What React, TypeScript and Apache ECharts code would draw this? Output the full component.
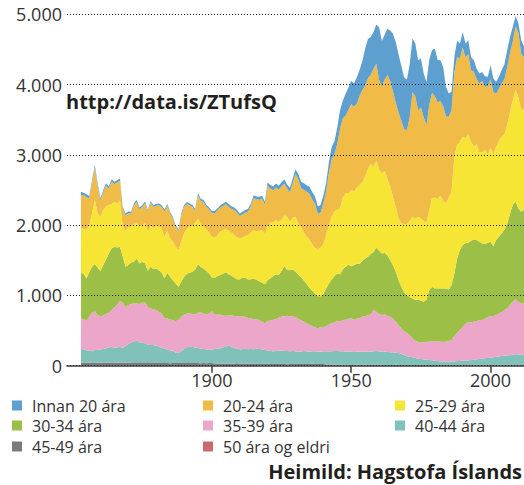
import { useEffect, useRef } from "react";
import * as echarts from "echarts";

// Births in Iceland by mother's age, 1853–2012
const firstYear = 1853;
// the axis starts a few years before the first data year and ends at 2012
const axisFirstYear = 1848;
const axisLastYear = 2012;

const innan20 = [
  40, 41, 38, 36, 35, 37, 34, 31, 30, 32,
  30, 31, 29, 30, 31, 26, 25, 27, 24, 26,
  26, 24, 25, 27, 25, 24, 26, 25, 27, 25,
  24, 26, 25, 23, 24, 22, 25, 26, 25, 27,
  25, 24, 30, 29, 31, 28, 30, 29, 31, 30,
  34, 36, 35, 37, 34, 35, 36, 33, 35, 36,
  38, 40, 42, 41, 43, 40, 42, 50, 50, 55,
  55, 56, 60, 62, 60, 65, 66, 70, 75, 90,
  95, 95, 100, 105, 100, 100, 110, 115, 120, 150,
  175, 190, 230, 265, 250, 310, 322, 332, 330, 375,
  370, 415, 521, 560, 540, 522, 557, 750, 650, 640,
  660, 720, 820, 860, 830, 780, 740, 720, 758, 759,
  749, 711, 696, 620, 616, 640, 607, 677, 600, 580,
  560, 420, 330, 260, 220, 230, 215, 220, 200, 195,
  190, 165, 150, 140, 130, 150, 140, 200, 190, 170,
  170, 190, 210, 240, 220, 210, 150, 130, 200, 150,
];

const ara20_24 = [
  481, 477, 464, 382, 439, 462, 392, 230, 254, 293,
  240, 320, 254, 302, 278, 259, 221, 198, 188, 268,
  307, 241, 260, 283, 284, 335, 293, 289, 306, 307,
  373, 346, 354, 331, 283, 269, 378, 378, 357, 303,
  283, 165, 326, 334, 349, 325, 331, 340, 345, 349,
  345, 344, 349, 344, 344, 359, 354, 320, 330, 335,
  339, 377, 458, 458, 443, 448, 410, 571, 480, 450,
  467, 465, 475, 450, 401, 420, 490, 606, 630, 550,
  608, 635, 652, 645, 630, 502, 500, 580, 620, 750,
  820, 810, 940, 1135, 1130, 1100, 1185, 1225, 1211, 1194,
  1266, 1304, 1303, 1288, 1262, 1398, 1379, 1274, 1235, 1301,
  1473, 1505, 1497, 1488, 1505, 1459, 1346, 1335, 1479, 1777,
  1740, 1517, 1579, 1475, 1388, 1493, 1502, 1441, 1382, 1345,
  1346, 1239, 1149, 1162, 1202, 1254, 1184, 1273, 1151, 1142,
  1019, 1068, 926, 988, 1008, 902, 974, 970, 886, 754,
  740, 758, 786, 827, 846, 833, 902, 922, 795, 731,
];

const ara25_29 = [
  631, 640, 697, 663, 758, 910, 768, 768, 783, 758,
  688, 632, 640, 625, 664, 418, 512, 536, 512, 536,
  498, 531, 521, 569, 554, 578, 597, 602, 617, 631,
  583, 607, 545, 545, 521, 522, 569, 616, 640, 655,
  640, 670, 649, 607, 593, 588, 578, 578, 574, 583,
  616, 616, 621, 617, 611, 602, 597, 583, 569, 593,
  630, 663, 687, 687, 716, 744, 721, 768, 798, 770,
  770, 750, 725, 725, 759, 688, 737, 779, 725, 720,
  680, 675, 685, 655, 650, 675, 690, 705, 760, 830,
  895, 920, 907, 940, 1020, 1050, 1018, 1083, 1043, 1081,
  1123, 1123, 1162, 1250, 1287, 1214, 1237, 1157, 1138, 1166,
  1090, 1042, 972, 915, 877, 901, 972, 1017, 1081, 1162,
  1161, 1176, 1171, 1152, 1091, 1138, 1257, 1294, 1265, 1322,
  1246, 1208, 1309, 1327, 1659, 1612, 1540, 1540, 1493, 1545,
  1407, 1318, 1365, 1266, 1303, 1337, 1247, 1342, 1308, 1327,
  1366, 1374, 1355, 1398, 1446, 1493, 1588, 1579, 1446, 1445,
];

const ara30_34 = [
  649, 644, 602, 640, 654, 678, 678, 654, 711, 777,
  843, 876, 862, 820, 768, 663, 578, 568, 588, 593,
  640, 578, 583, 559, 512, 593, 569, 592, 592, 578,
  569, 649, 607, 568, 536, 473, 497, 536, 566, 581,
  602, 640, 692, 650, 640, 621, 569, 479, 521, 550,
  559, 597, 616, 587, 560, 550, 531, 522, 554, 554,
  545, 555, 583, 554, 554, 559, 559, 578, 602, 620,
  636, 610, 653, 710, 649, 655, 662, 650, 632, 610,
  584, 560, 528, 500, 480, 453, 440, 470, 540, 580,
  620, 665, 673, 674, 720, 755, 768, 742, 781, 782,
  773, 796, 820, 830, 858, 824, 915, 900, 877, 872,
  868, 806, 758, 711, 640, 592, 554, 533, 545, 568,
  578, 602, 597, 578, 602, 735, 772, 749, 754, 759,
  759, 759, 734, 782, 891, 1057, 1138, 1161, 1147, 1128,
  1162, 1170, 1152, 1113, 1090, 1062, 1062, 1057, 996, 1067,
  1090, 1119, 1147, 1209, 1303, 1375, 1389, 1327, 1313, 1328,
];

const ara35_39 = [
  436, 427, 417, 484, 550, 545, 497, 465, 483, 489,
  493, 522, 574, 602, 654, 645, 550, 555, 550, 540,
  530, 545, 569, 578, 540, 521, 507, 508, 498, 488,
  431, 441, 436, 441, 445, 475, 488, 488, 479, 474,
  470, 469, 503, 512, 502, 498, 521, 545, 493, 483,
  484, 455, 441, 427, 450, 455, 455, 474, 465, 455,
  446, 436, 422, 427, 413, 394, 379, 422, 431, 450,
  455, 467, 484, 496, 502, 496, 497, 485, 468, 445,
  421, 400, 382, 360, 340, 335, 345, 345, 355, 385,
  400, 405, 430, 421, 445, 455, 465, 473, 455, 473,
  473, 497, 506, 520, 530, 587, 558, 530, 520, 535,
  511, 502, 483, 441, 398, 361, 338, 335, 308, 269,
  246, 241, 232, 242, 256, 261, 276, 281, 281, 279,
  281, 283, 294, 305, 362, 404, 439, 485, 521, 546,
  536, 541, 545, 555, 550, 563, 577, 591, 586, 595,
  614, 628, 652, 670, 713, 755, 783, 750, 717, 726,
];

const ara40_44 = [
  194, 189, 180, 170, 161, 180, 180, 189, 194, 203,
  218, 227, 213, 218, 227, 208, 237, 265, 289, 308,
  318, 294, 289, 280, 261, 256, 256, 246, 232, 218,
  204, 194, 185, 171, 152, 137, 171, 204, 227, 232,
  227, 223, 213, 208, 204, 194, 185, 194, 205, 210,
  214, 229, 238, 257, 238, 219, 210, 200, 205, 210,
  203, 207, 204, 208, 206, 200, 191, 186, 185, 181,
  186, 189, 190, 184, 187, 183, 186, 181, 176, 179,
  184, 181, 176, 180, 182, 176, 179, 183, 189, 187,
  191, 194, 192, 189, 190, 184, 186, 184, 179, 184,
  185, 183, 184, 185, 183, 189, 194, 189, 189, 187,
  184, 183, 179, 174, 169, 159, 141, 122, 117, 109,
  99, 89, 84, 85, 78, 76, 71, 64, 61, 57,
  54, 53, 52, 56, 55, 61, 63, 66, 68, 70,
  76, 79, 86, 91, 94, 101, 104, 111, 114, 121,
  124, 131, 134, 141, 144, 152, 156, 154, 157, 153,
];

const ara45_49 = [
  40, 41, 39, 38, 40, 42, 40, 39, 41, 40,
  38, 40, 41, 39, 40, 38, 40, 41, 36, 35,
  34, 36, 35, 37, 35, 34, 36, 35, 35, 34,
  36, 35, 33, 35, 34, 36, 35, 35, 34, 35,
  36, 34, 35, 33, 35, 34, 35, 34, 30, 31,
  29, 30, 31, 30, 29, 30, 31, 30, 29, 30,
  30, 31, 29, 30, 28, 30, 29, 30, 23, 22,
  21, 22, 23, 22, 21, 22, 22, 23, 21, 22,
  22, 21, 22, 23, 22, 21, 22, 22, 16, 15,
  15, 14, 16, 15, 15, 14, 15, 16, 15, 14,
  15, 15, 14, 15, 16, 15, 14, 15, 11, 10,
  10, 9, 10, 11, 10, 9, 10, 10, 9, 10,
  10, 9, 10, 6, 5, 5, 6, 5, 5, 4,
  5, 5, 4, 5, 5, 4, 5, 4, 5, 5,
  4, 5, 5, 4, 5, 5, 6, 5, 5, 6,
  5, 6, 6, 5, 6, 7, 6, 7, 6, 6,
];

const ara50plus = [
  3, 3, 2, 3, 4, 3, 3, 2, 3, 3,
  3, 4, 3, 3, 2, 3, 3, 3, 4, 3,
  3, 2, 3, 3, 3, 4, 3, 3, 2, 3,
  3, 3, 3, 2, 3, 4, 3, 3, 3, 2,
  3, 3, 4, 3, 3, 2, 3, 3, 2, 2,
  3, 2, 2, 1, 2, 2, 3, 2, 2, 2,
  1, 2, 2, 3, 2, 2, 2, 1, 2, 2,
  2, 3, 2, 2, 1, 2, 2, 2, 2, 1,
  2, 2, 2, 3, 2, 2, 1, 2, 1, 1,
  1, 0, 1, 1, 2, 1, 1, 1, 1, 0,
  1, 1, 1, 1, 1, 0, 1, 1, 1, 1,
  0, 1, 1, 1, 0, 1, 1, 1, 0, 1,
  1, 0, 1, 0, 1, 0, 0, 0, 1, 0,
  0, 0, 0, 0, 0, 1, 0, 0, 0, 0,
  0, 1, 0, 0, 0, 0, 1, 0, 0, 0,
  1, 0, 0, 1, 0, 0, 1, 0, 1, 1,
];

const xTickLabels = ["1900", "1950", "2000"];

const seriesNames = [
  "Innan 20 ára",
  "20-24 ára",
  "25-29 ára",
  "30-34 ára",
  "35-39 ára",
  "40-44 ára",
  "45-49 ára",
  "50 ára og eldri",
];
const seriesColors = [
  "#5d9fcf",
  "#f0bc47",
  "#f7e535",
  "#9cbf47",
  "#eca6ca",
  "#80c1ba",
  "#7b7b7b",
  "#c96a6b",
];
const seriesValues = [innan20, ara20_24, ara25_29, ara30_34, ara35_39, ara40_44, ara45_49, ara50plus];

const FONT = '"Open Sans", "Noto Sans", sans-serif';

export default function App() {
  const ref = useRef<HTMLDivElement>(null);

  useEffect(() => {
    if (!ref.current) return;
    const chart = echarts.init(ref.current, undefined, { renderer: "svg" });

    const years: string[] = [];
    for (let y = axisFirstYear; y <= axisLastYear; y++) years.push(String(y));
    const lead = firstYear - axisFirstYear; // empty slots before data starts

    // stacked bottom-to-top: 50+ first, Innan 20 on top
    const series = seriesNames
      .map((name, i) => ({
        name,
        type: "line" as const,
        stack: "total",
        symbol: "none",
        showSymbol: false,
        color: seriesColors[i],
        lineStyle: { width: 0 },
        areaStyle: { color: seriesColors[i], opacity: 1 },
        emphasis: { disabled: true },
        data: [...new Array(lead).fill("-"), ...seriesValues[i]],
      }))
      .reverse();

    const cols = [12, 203, 395];
    const rows = [395.5, 415.5, 436.5];
    const legends = seriesNames.map((name, i) => ({
      data: [name],
      left: cols[i % 3],
      top: rows[Math.floor(i / 3)],
      padding: 0,
      icon: "rect",
      itemWidth: 10,
      itemHeight: 10,
      selectedMode: false,
      textStyle: {
        fontFamily: FONT,
        fontSize: 16,
        color: "#333",
        padding: [0, 0, 0, 5],
        lineHeight: 20,
      },
    }));

    const isTick = (_i: number, v: string) => xTickLabels.includes(String(v));

    chart.setOption({
      animation: false,
      backgroundColor: "#fff",
      textStyle: { fontFamily: FONT },
      grid: { left: 67, right: 0, top: 14.3, bottom: 119.3, containLabel: false },
      xAxis: {
        type: "category",
        data: years,
        boundaryGap: false,
        z: 5,
        axisLine: { show: true, onZero: false, lineStyle: { color: "#3c3c3c", width: 1.5 } },
        axisTick: {
          show: true,
          interval: isTick,
          length: 7,
          lineStyle: { color: "#3c3c3c", width: 1.5 },
        },
        axisLabel: {
          interval: isTick,
          fontFamily: FONT,
          fontSize: 18,
          color: "#333",
          margin: 5,
        },
        splitLine: { show: false },
      },
      yAxis: {
        type: "value",
        min: 0,
        max: 5000,
        interval: 1000,
        z: 5,
        axisLine: { show: false },
        axisTick: { show: false },
        axisLabel: {
          fontFamily: FONT,
          fontSize: 18,
          color: "#333",
          margin: 5,
          formatter: (v: number) => String(v).replace(/\B(?=(\d{3})+(?!\d))/g, "."),
        },
        splitLine: { show: true, lineStyle: { type: [1, 2], color: "#222", width: 1.2 } },
      },
      legend: legends,
      graphic: [
        {
          type: "text",
          left: 66,
          top: 91,
          z: 10,
          style: {
            text: "http://data.is/ZTufsQ",
            font: `bold 20px ${FONT}`,
            fill: "#231f20",
          },
        },
        {
          type: "text",
          right: 2,
          top: 461,
          z: 10,
          style: {
            text: "Heimild: Hagstofa Íslands",
            font: `bold 20px ${FONT}`,
            fill: "#231f20",
          },
        },
      ],
      series,
    });

    return () => chart.dispose();
  }, []);

  return (
    <div
      ref={ref}
      style={{ position: "absolute", left: 0, top: 0, width: 524, height: 485, background: "#fff" }}
    />
  );
}
